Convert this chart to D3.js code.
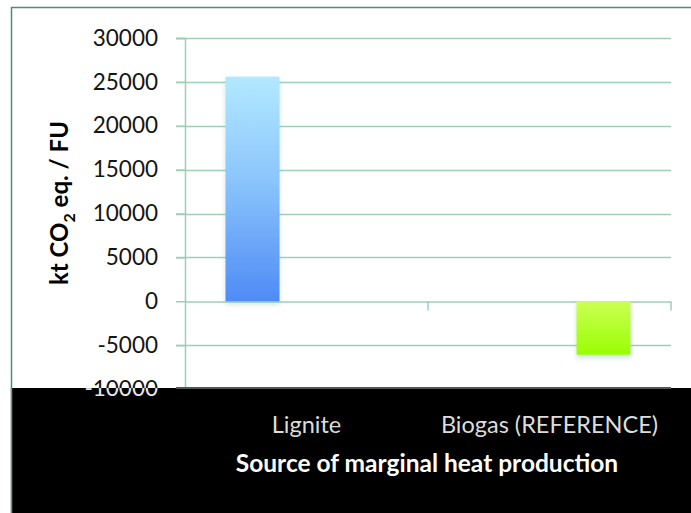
<!DOCTYPE html>
<html>
<head>
<meta charset="utf-8">
<script src="https://cdn.jsdelivr.net/npm/d3@7"></script>
<style>
  body { margin: 0; background: #fff; }
  text { font-family: Lato, "Open Sans", sans-serif; }
</style>
</head>
<body>
<div id="chart"></div>
<script>
(function() {
  // data
  const categories = ['Lignite', 'Biogas (REFERENCE)'];
  const slots = ['s1', 's2', 's3'];
  // one row per slot, one value per category (0 = no bar)
  const slotValues = [
    [25600, 0],
    [0, 0],
    [0, -6100]
  ];
  const yTicks = [-10000, -5000, 0, 5000, 10000, 15000, 20000, 25000, 30000];
  const yTitle = 'kt CO';
  const xTitle = 'Source of marginal heat production';

  const width = 691, height = 513;
  const plot = { left: 185, right: 671, top: 38, bottom: 389 };
  const fmt = d => String(d);

  const svg = d3.select('#chart')
    .append('svg')
      .attr('width', width)
      .attr('height', height);

  const defs = svg.append('defs');

  const gBlue = defs.append('linearGradient')
    .attr('id', 'gBlue').attr('x1', 0).attr('y1', 0).attr('x2', 0).attr('y2', 1);
  gBlue.append('stop').attr('offset', '0%').attr('stop-color', '#b2e9ff');
  gBlue.append('stop').attr('offset', '45%').attr('stop-color', '#8cc6fb');
  gBlue.append('stop').attr('offset', '100%').attr('stop-color', '#4f8bf6');

  const gGreen = defs.append('linearGradient')
    .attr('id', 'gGreen').attr('x1', 0).attr('y1', 0).attr('x2', 0).attr('y2', 1);
  gGreen.append('stop').attr('offset', '0%').attr('stop-color', '#ccff55');
  gGreen.append('stop').attr('offset', '100%').attr('stop-color', '#99ff00');

  const shadow = defs.append('filter').attr('id', 'shadow')
    .attr('x', '-20%').attr('y', '-20%').attr('width', '140%').attr('height', '140%');
  shadow.append('feDropShadow')
    .attr('dx', 0).attr('dy', 3).attr('stdDeviation', 2.5)
    .attr('flood-color', '#6fae98').attr('flood-opacity', 0.35);

  defs.append('clipPath').attr('id', 'bandClip')
    .append('rect').attr('x', 0).attr('y', 388).attr('width', width).attr('height', height - 388);

  // outer frame
  svg.append('rect')
    .attr('x', 11.5).attr('y', 7.5)
    .attr('width', width).attr('height', height)
    .attr('fill', 'none')
    .attr('stroke', '#4d8d75')
    .attr('stroke-width', 1.5);

  const y = d3.scaleLinear()
    .domain([-10000, 30000])
    .range([plot.bottom, plot.top]);

  const x = d3.scaleBand()
    .domain(categories)
    .range([plot.left, plot.right])
    .padding(0);

  const xs = d3.scaleBand()
    .domain(slots)
    .range([0, x.bandwidth()])
    .paddingInner(0)
    .paddingOuter(0.75);

  // grid lines
  svg.append('g')
    .selectAll('line')
    .data(yTicks.filter(d => d !== 0))
    .enter().append('line')
      .attr('x1', plot.left - 9).attr('x2', plot.right)
      .attr('y1', d => Math.round(y(d)) + 0.5)
      .attr('y2', d => Math.round(y(d)) + 0.5)
      .attr('stroke', '#9ccfba')
      .attr('stroke-width', 1.5);

  // y axis
  const yAxis = svg.append('g')
    .attr('transform', `translate(${plot.left},0)`)
    .call(d3.axisLeft(y).tickValues(yTicks).tickSize(9).tickPadding(18).tickFormat(fmt));
  yAxis.select('.domain').attr('stroke', '#9ccfba').attr('stroke-width', 1.5);
  yAxis.selectAll('.tick line').attr('stroke', '#9ccfba').attr('stroke-width', 1.5);
  yAxis.selectAll('.tick text')
    .attr('fill', '#141414')
    .style('font-size', '22.5px');

  // zero line with category ticks
  const zero = svg.append('g')
    .attr('transform', `translate(0,${Math.round(y(0)) + 0.5})`)
    .call(d3.axisBottom(x).tickSize(0).tickFormat(''));
  zero.select('.domain').attr('stroke', '#9ccfba').attr('stroke-width', 1.5);
  zero.selectAll('.cat-tick')
    .data(categories)
    .enter().append('line')
      .attr('class', 'cat-tick')
      .attr('x1', d => x(d) + x.bandwidth())
      .attr('x2', d => x(d) + x.bandwidth())
      .attr('y1', 0).attr('y2', 9)
      .attr('stroke', '#9ccfba')
      .attr('stroke-width', 1.5);

  // bars
  const fills = ['url(#gBlue)', 'url(#gBlue)', 'url(#gGreen)'];
  const bars = [];
  slots.forEach((s, si) => {
    categories.forEach((c, ci) => {
      const v = slotValues[si][ci];
      if (v !== 0) bars.push({ slot: s, si: si, cat: c, value: v });
    });
  });

  svg.append('g')
    .selectAll('rect')
    .data(bars)
    .enter().append('rect')
      .attr('x', d => x(d.cat) + xs(d.slot))
      .attr('width', xs.bandwidth())
      .attr('y', d => y(Math.max(0, d.value)))
      .attr('height', d => Math.abs(y(d.value) - y(0)))
      .attr('fill', d => fills[d.si])
      .attr('filter', 'url(#shadow)');

  // black band at the bottom
  svg.append('rect')
    .attr('x', 12).attr('y', 388)
    .attr('width', width - 12).attr('height', height - 388)
    .attr('fill', '#000');
  svg.append('line')
    .attr('x1', 11.5).attr('x2', 11.5).attr('y1', 388).attr('y2', height)
    .attr('stroke', '#888').attr('stroke-width', 1.5);
  svg.append('line')
    .attr('x1', plot.left - 9).attr('x2', plot.right)
    .attr('y1', 388).attr('y2', 388)
    .attr('stroke', '#555').attr('stroke-width', 2);

  // bottom tick label shows through the band in light colour
  svg.append('text')
    .attr('x', plot.left - 27)
    .attr('y', y(-10000))
    .attr('dy', '0.32em')
    .attr('text-anchor', 'end')
    .attr('clip-path', 'url(#bandClip)')
    .attr('fill', '#e8e8e8')
    .style('font-size', '22.5px')
    .text(fmt(-10000));

  // category labels
  svg.append('g')
    .selectAll('text')
    .data(categories)
    .enter().append('text')
      .attr('x', d => x(d) + x.bandwidth() / 2)
      .attr('y', 433)
      .attr('text-anchor', 'middle')
      .attr('fill', '#dcdcdc')
      .style('font-size', '23.5px')
      .text(d => d);

  // axis titles
  svg.append('text')
    .attr('x', (plot.left + plot.right) / 2 - 1)
    .attr('y', 472)
    .attr('text-anchor', 'middle')
    .attr('fill', '#fff')
    .style('font-size', '24.5px')
    .style('font-weight', 'bold')
    .text(xTitle);

  const yt = svg.append('text')
    .attr('transform', 'translate(68,203) rotate(-90)')
    .attr('text-anchor', 'middle')
    .attr('fill', '#000')
    .style('font-size', '24px')
    .style('font-weight', 'bold');
  yt.append('tspan').text(yTitle);
  yt.append('tspan').attr('dy', 7).style('font-size', '16px').text('2');
  yt.append('tspan').attr('dy', -7).text(' eq. / FU');
})()
</script>
</body>
</html>
